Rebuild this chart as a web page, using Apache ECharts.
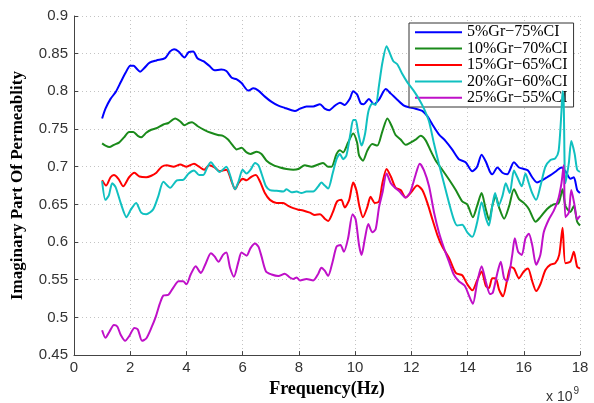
<!DOCTYPE html>
<html>
<head>
<meta charset="utf-8">
<script src="https://cdn.jsdelivr.net/npm/echarts@6/dist/echarts.min.js"></script>
<style>html,body{margin:0;padding:0;background:#fff;}#c{width:594px;height:403px;}</style>
</head>
<body>
<div id="c"></div>
<script>
const seriesNames = ['5%Gr\u221275%CI', '10%Gr\u221270%CI', '15%Gr\u221265%CI', '20%Gr\u221260%CI', '25%Gr\u221255%CI'];
const xTicks = [0, 2, 4, 6, 8, 10, 12, 14, 16, 18];
const yTicks = [0.45, 0.5, 0.55, 0.6, 0.65, 0.7, 0.75, 0.8, 0.85, 0.9];

const freqBlue = [1.0,1.12,1.3,1.48,1.66,1.84,2.0,2.12,2.23,2.35,2.5,2.69,2.93,3.24,3.42,3.56,3.72,3.93,4.08,4.24,4.39,4.6,4.81,5.0,5.24,5.42,5.61,5.79,5.96,6.2,6.38,6.56,6.79,7.03,7.27,7.5,7.74,7.86,8.04,8.27,8.51,8.75,8.92,9.08,9.28,9.46,9.63,9.81,9.93,10.07,10.2,10.31,10.49,10.67,10.85,11.09,11.27,11.5,11.74,11.91,12.15,12.39,12.57,12.75,12.98,13.22,13.45,13.69,13.93,14.17,14.34,14.5,14.66,14.8,14.88,15.06,15.24,15.41,15.65,15.83,16.0,16.15,16.3,16.47,16.65,16.83,17.0,17.18,17.34,17.48,17.66,17.78,17.9,18.0];
const valBlue = [0.764,0.777,0.790,0.799,0.812,0.825,0.834,0.834,0.830,0.826,0.831,0.838,0.841,0.844,0.853,0.856,0.853,0.845,0.852,0.853,0.844,0.840,0.834,0.828,0.829,0.827,0.818,0.816,0.811,0.801,0.804,0.801,0.793,0.786,0.781,0.778,0.775,0.774,0.777,0.780,0.780,0.783,0.777,0.775,0.781,0.785,0.782,0.790,0.800,0.796,0.784,0.783,0.790,0.783,0.789,0.803,0.797,0.789,0.781,0.779,0.777,0.774,0.767,0.756,0.743,0.734,0.723,0.710,0.706,0.694,0.700,0.716,0.706,0.693,0.690,0.699,0.692,0.690,0.706,0.699,0.697,0.695,0.686,0.679,0.682,0.686,0.690,0.695,0.699,0.694,0.684,0.686,0.669,0.665];

const freqGreen = [1.0,1.12,1.26,1.42,1.6,1.78,1.96,2.11,2.27,2.39,2.57,2.75,2.93,3.18,3.36,3.6,3.78,3.93,4.08,4.2,4.39,4.63,4.87,5.12,5.3,5.48,5.61,5.79,5.96,6.14,6.28,6.5,6.67,6.85,7.09,7.33,7.56,7.8,7.98,8.21,8.45,8.69,8.86,9.04,9.16,9.34,9.46,9.57,9.75,9.93,10.07,10.14,10.28,10.43,10.61,10.79,10.97,11.15,11.3,11.44,11.62,11.8,11.97,12.15,12.33,12.51,12.69,12.87,13.1,13.34,13.58,13.81,13.99,14.19,14.34,14.5,14.64,14.77,14.88,15.0,15.12,15.3,15.48,15.65,15.83,16.0,16.18,16.42,16.59,16.83,17.06,17.24,17.38,17.48,17.66,17.78,17.9,18.0];
const valGreen = [0.731,0.728,0.726,0.729,0.732,0.739,0.746,0.746,0.741,0.739,0.745,0.749,0.751,0.756,0.758,0.764,0.760,0.755,0.758,0.759,0.754,0.749,0.745,0.742,0.741,0.736,0.730,0.723,0.725,0.719,0.717,0.720,0.717,0.708,0.702,0.699,0.697,0.696,0.697,0.702,0.700,0.703,0.705,0.700,0.700,0.717,0.722,0.719,0.732,0.744,0.732,0.715,0.708,0.721,0.730,0.728,0.747,0.764,0.754,0.742,0.736,0.729,0.732,0.736,0.741,0.735,0.721,0.708,0.696,0.683,0.669,0.654,0.650,0.633,0.648,0.665,0.645,0.629,0.648,0.661,0.646,0.631,0.648,0.670,0.657,0.652,0.644,0.627,0.633,0.644,0.650,0.652,0.670,0.648,0.640,0.648,0.627,0.622];

const freqRed = [1.0,1.14,1.3,1.42,1.58,1.75,1.96,2.15,2.33,2.57,2.75,2.93,3.12,3.3,3.54,3.78,4.0,4.27,4.45,4.63,4.81,5.0,5.18,5.42,5.61,5.73,5.85,6.0,6.14,6.32,6.47,6.62,6.79,6.97,7.21,7.44,7.62,7.8,7.98,8.15,8.39,8.57,8.75,8.92,9.04,9.2,9.36,9.51,9.63,9.79,9.93,10.05,10.15,10.28,10.43,10.55,10.7,10.85,10.97,11.12,11.27,11.44,11.62,11.8,11.97,12.21,12.39,12.57,12.75,12.93,13.1,13.34,13.58,13.81,13.99,14.17,14.34,14.5,14.65,14.76,14.88,15.0,15.12,15.26,15.41,15.53,15.65,15.83,16.0,16.15,16.3,16.44,16.59,16.77,16.95,17.12,17.26,17.38,17.48,17.66,17.78,17.9,18.0];
const valRed = [0.682,0.675,0.686,0.689,0.684,0.674,0.686,0.692,0.687,0.686,0.688,0.692,0.700,0.702,0.700,0.703,0.700,0.704,0.700,0.696,0.702,0.699,0.694,0.696,0.680,0.670,0.678,0.684,0.682,0.687,0.689,0.680,0.665,0.656,0.652,0.652,0.648,0.645,0.643,0.642,0.639,0.636,0.637,0.631,0.628,0.639,0.654,0.656,0.646,0.656,0.679,0.668,0.648,0.633,0.646,0.660,0.652,0.654,0.678,0.697,0.687,0.672,0.669,0.659,0.665,0.675,0.669,0.652,0.630,0.609,0.594,0.579,0.559,0.556,0.544,0.536,0.549,0.561,0.542,0.539,0.552,0.552,0.537,0.528,0.550,0.567,0.565,0.552,0.561,0.565,0.548,0.535,0.544,0.563,0.570,0.572,0.583,0.619,0.572,0.574,0.587,0.567,0.565];

const freqCyan = [1.0,1.12,1.24,1.36,1.48,1.66,1.87,2.02,2.21,2.39,2.57,2.81,3.0,3.18,3.42,3.66,3.9,4.08,4.27,4.45,4.6,4.75,4.87,5.0,5.18,5.42,5.55,5.73,5.85,6.0,6.14,6.28,6.44,6.56,6.67,6.83,6.97,7.21,7.44,7.56,7.74,7.92,8.09,8.27,8.51,8.69,8.8,8.92,9.04,9.2,9.34,9.46,9.57,9.69,9.83,9.93,10.02,10.11,10.23,10.35,10.47,10.61,10.73,10.85,10.97,11.12,11.21,11.36,11.5,11.68,11.86,12.1,12.3,12.45,12.63,12.81,12.98,13.16,13.34,13.51,13.63,13.81,13.99,14.17,14.34,14.5,14.66,14.76,14.88,14.98,15.1,15.24,15.36,15.5,15.65,15.77,15.93,16.06,16.18,16.3,16.44,16.59,16.77,16.95,17.12,17.24,17.34,17.38,17.42,17.48,17.6,17.69,17.81,17.9,18.0];
const valCyan = [0.681,0.656,0.662,0.678,0.673,0.652,0.633,0.643,0.652,0.639,0.637,0.643,0.661,0.680,0.672,0.682,0.683,0.691,0.695,0.689,0.689,0.700,0.706,0.700,0.693,0.700,0.689,0.670,0.680,0.696,0.691,0.696,0.705,0.702,0.691,0.674,0.669,0.668,0.667,0.670,0.666,0.667,0.665,0.667,0.667,0.674,0.679,0.675,0.671,0.691,0.710,0.717,0.710,0.715,0.743,0.762,0.762,0.745,0.728,0.743,0.773,0.784,0.782,0.808,0.838,0.860,0.853,0.840,0.836,0.823,0.812,0.800,0.788,0.777,0.760,0.730,0.704,0.678,0.652,0.630,0.622,0.623,0.613,0.607,0.626,0.653,0.631,0.622,0.648,0.665,0.648,0.661,0.678,0.665,0.695,0.686,0.674,0.691,0.678,0.665,0.656,0.674,0.700,0.709,0.711,0.721,0.773,0.800,0.785,0.678,0.704,0.734,0.717,0.696,0.693];

const freqMag = [1.0,1.12,1.26,1.42,1.54,1.66,1.82,1.96,2.15,2.27,2.42,2.57,2.75,2.91,3.05,3.18,3.36,3.54,3.72,3.88,4.0,4.15,4.33,4.51,4.69,4.87,5.0,5.14,5.3,5.42,5.55,5.69,5.85,5.96,6.14,6.28,6.44,6.56,6.67,6.83,7.03,7.27,7.5,7.68,7.8,7.92,8.04,8.27,8.51,8.69,8.8,8.92,9.04,9.2,9.34,9.48,9.6,9.75,9.91,10.02,10.14,10.23,10.35,10.47,10.61,10.73,10.85,10.97,11.12,11.27,11.42,11.58,11.8,11.97,12.15,12.3,12.45,12.63,12.81,12.98,13.16,13.34,13.51,13.69,13.9,14.05,14.19,14.34,14.5,14.66,14.8,14.9,15.06,15.18,15.3,15.41,15.59,15.68,15.8,15.93,16.06,16.18,16.3,16.44,16.59,16.71,16.89,17.06,17.22,17.34,17.42,17.48,17.6,17.69,17.81,17.9,18.0];
const valMag = [0.483,0.473,0.481,0.490,0.488,0.477,0.469,0.475,0.486,0.484,0.469,0.472,0.486,0.501,0.518,0.529,0.530,0.540,0.548,0.548,0.544,0.557,0.568,0.559,0.572,0.585,0.581,0.574,0.583,0.586,0.566,0.554,0.574,0.586,0.582,0.592,0.598,0.594,0.581,0.561,0.557,0.555,0.558,0.553,0.551,0.553,0.549,0.551,0.549,0.558,0.566,0.562,0.555,0.574,0.594,0.596,0.587,0.605,0.637,0.630,0.596,0.583,0.605,0.624,0.613,0.617,0.646,0.665,0.691,0.678,0.672,0.667,0.659,0.667,0.689,0.704,0.695,0.674,0.639,0.613,0.592,0.574,0.557,0.548,0.542,0.529,0.518,0.546,0.568,0.546,0.531,0.533,0.559,0.574,0.552,0.548,0.583,0.605,0.587,0.583,0.605,0.611,0.596,0.570,0.583,0.613,0.630,0.641,0.656,0.678,0.702,0.633,0.639,0.669,0.648,0.630,0.635];

const colors = ['#0000ff', '#1a8a1a', '#ff0000', '#10c0c0', '#bf10c8'];
const freqs = [freqBlue, freqGreen, freqRed, freqCyan, freqMag];
const vals = [valBlue, valGreen, valRed, valCyan, valMag];

const zip = (xs, ys) => xs.map((x, i) => [x, ys[i]]);

const chart = echarts.init(document.getElementById('c'), null, {renderer: 'canvas'});
const tickFont = {fontFamily: 'Liberation Sans, Arial, sans-serif', fontSize: 15, color: '#333'};
chart.setOption({
  animation: false,
  backgroundColor: '#fff',
  grid: {left: 74, right: 14, top: 16, bottom: 41, containLabel: false},
  xAxis: {
    type: 'value', min: xTicks[0], max: xTicks[xTicks.length - 1], interval: 2,
    name: 'Frequency(Hz)', nameLocation: 'middle', nameGap: 21,
    nameTextStyle: {fontFamily: 'Liberation Serif, Times New Roman, serif', fontWeight: 'bold', fontSize: 18, color: '#000'},
    axisLine: {show: true, lineStyle: {color: '#444', width: 1}},
    axisTick: {show: true, inside: true, length: 4, lineStyle: {color: '#444'}},
    axisLabel: Object.assign({margin: 5}, tickFont),
    splitLine: {show: true, lineStyle: {color: '#c4c4c4', type: [1, 3], width: 1}}
  },
  yAxis: {
    type: 'value', min: yTicks[0], max: yTicks[yTicks.length - 1], interval: 0.05,
    name: 'Imaginary Part Of Permeablity', nameLocation: 'middle', nameGap: 48,
    nameTextStyle: {fontFamily: 'Liberation Serif, Times New Roman, serif', fontWeight: 'bold', fontSize: 17, color: '#000'},
    axisLine: {show: true, lineStyle: {color: '#444', width: 1}},
    axisTick: {show: true, inside: true, length: 4, lineStyle: {color: '#444'}},
    axisLabel: Object.assign({margin: 6, formatter: v => String(+v.toFixed(2))}, tickFont),
    splitLine: {show: true, lineStyle: {color: '#c4c4c4', type: [1, 3], width: 1}}
  },
  legend: {
    orient: 'vertical', left: 409, top: 23,
    padding: [1, 6, 1, 6],
    icon: 'rect',
    itemWidth: 47, itemHeight: 2, itemGap: 0,
    backgroundColor: '#fff', borderColor: '#333', borderWidth: 1,
    textStyle: {fontFamily: 'Liberation Serif, Times New Roman, serif', fontSize: 16, color: '#000', lineHeight: 16.4},
    data: seriesNames
  },
  series: seriesNames.map((name, i) => ({
    name: name, type: 'line', symbol: 'none', smooth: 0.25,
    data: zip(freqs[i], vals[i]),
    lineStyle: {color: colors[i], width: 2},
    itemStyle: {color: colors[i]},
    z: 2 + i
  })),
  graphic: [{
    type: 'text', left: 546, top: 386,
    style: {
      text: '{a|x 10}{b|9}',
      rich: {
        a: {fontFamily: 'Liberation Sans, Arial, sans-serif', fontSize: 14, fill: '#333', verticalAlign: 'bottom'},
        b: {fontFamily: 'Liberation Sans, Arial, sans-serif', fontSize: 10, fill: '#333', verticalAlign: 'top', padding: [0, 0, 8, 1]}
      }
    }
  }]
});
</script>
</body>
</html>
